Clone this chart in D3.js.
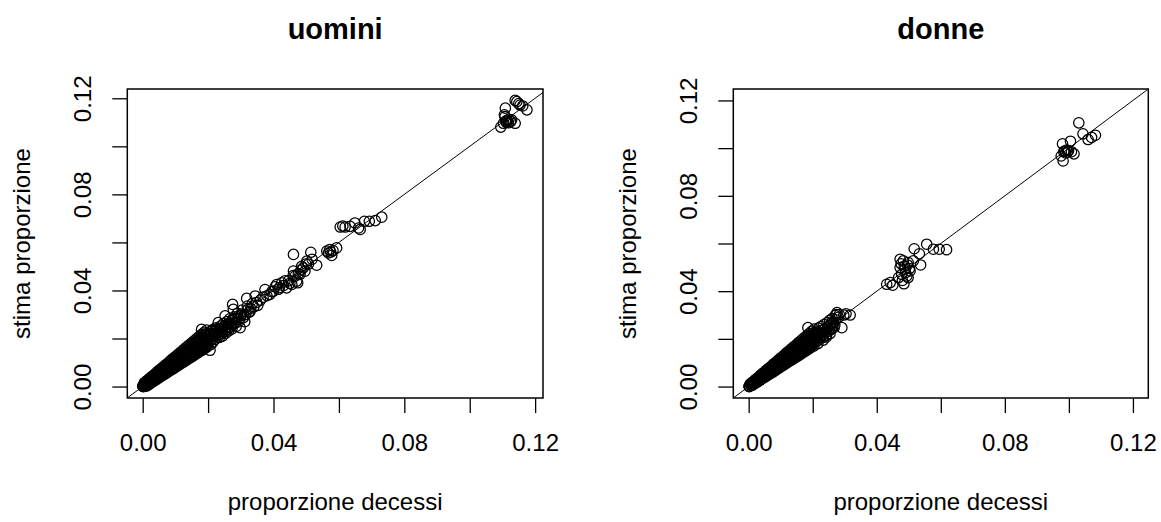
<!DOCTYPE html>
<html>
<head>
<meta charset="utf-8">
<script src="https://cdn.jsdelivr.net/npm/d3@7"></script>
<style>
  body { margin: 0; background: #fff; }
  svg { display: block; font-family: "Liberation Sans", Arial, sans-serif; color: #000; }
</style>
</head>
<body>
<svg id="chart" width="1161" height="522"></svg>
<script>
// values: [proporzione decessi, stima proporzione]
const uominiPoints = [
  [0.0001,0.0001],[0.0002,0.0000],[0.0000,0.0002],
  [0.0005,0.0016],[0.0012,0.0024],[0.0020,0.0033],[0.0028,0.0042],[0.0036,0.0051],[0.0044,0.0061],[0.0052,0.0070],[0.0060,0.0079],[0.0068,0.0088],[0.0076,0.0097],[0.0084,0.0107],[0.0092,0.0116],[0.0100,0.0125],[0.0108,0.0134],[0.0116,0.0143],[0.0124,0.0153],[0.0132,0.0162],[0.0140,0.0171],[0.0148,0.0180],[0.0156,0.0189],[0.0164,0.0199],[0.0172,0.0208],[0.0180,0.0217],[0.0188,0.0226],[0.0196,0.0235],
  [0.0007,0.0016],[0.0015,0.0025],[0.0023,0.0034],[0.0031,0.0042],[0.0039,0.0051],[0.0047,0.0060],[0.0055,0.0069],[0.0063,0.0078],[0.0071,0.0087],[0.0079,0.0096],[0.0087,0.0105],[0.0095,0.0113],[0.0103,0.0122],[0.0111,0.0131],[0.0119,0.0140],[0.0127,0.0149],[0.0135,0.0158],[0.0143,0.0167],[0.0151,0.0176],[0.0159,0.0184],[0.0167,0.0193],[0.0175,0.0202],[0.0183,0.0211],[0.0191,0.0220],
  [0.0009,0.0015],[0.0017,0.0023],[0.0025,0.0032],[0.0033,0.0040],[0.0041,0.0049],[0.0049,0.0057],[0.0057,0.0066],[0.0065,0.0075],[0.0073,0.0083],[0.0081,0.0092],[0.0089,0.0100],[0.0097,0.0109],[0.0105,0.0117],[0.0113,0.0126],[0.0121,0.0134],[0.0129,0.0143],[0.0137,0.0152],[0.0145,0.0160],[0.0153,0.0169],[0.0161,0.0177],[0.0169,0.0186],[0.0177,0.0194],[0.0185,0.0203],[0.0193,0.0212],
  [0.0005,0.0007],[0.0013,0.0015],[0.0021,0.0024],[0.0029,0.0032],[0.0037,0.0040],[0.0045,0.0049],[0.0053,0.0057],[0.0061,0.0065],[0.0069,0.0073],[0.0077,0.0082],[0.0085,0.0090],[0.0093,0.0098],[0.0101,0.0107],[0.0109,0.0115],[0.0117,0.0123],[0.0125,0.0131],[0.0133,0.0140],[0.0141,0.0148],[0.0149,0.0156],[0.0157,0.0164],[0.0165,0.0173],[0.0173,0.0181],[0.0181,0.0189],[0.0189,0.0198],[0.0197,0.0206],
  [0.0003,0.0003],[0.0011,0.0011],[0.0019,0.0020],[0.0027,0.0026],[0.0035,0.0036],[0.0043,0.0042],[0.0051,0.0052],[0.0059,0.0058],[0.0067,0.0068],[0.0075,0.0074],[0.0083,0.0084],[0.0091,0.0090],[0.0099,0.0100],[0.0107,0.0106],[0.0115,0.0116],[0.0123,0.0122],[0.0131,0.0132],[0.0139,0.0138],[0.0147,0.0148],[0.0155,0.0154],[0.0163,0.0164],[0.0171,0.0170],[0.0179,0.0180],[0.0187,0.0186],[0.0195,0.0196],
  [0.0009,0.0007],[0.0017,0.0014],[0.0025,0.0022],[0.0033,0.0030],[0.0041,0.0038],[0.0049,0.0045],[0.0057,0.0053],[0.0065,0.0061],[0.0073,0.0068],[0.0081,0.0076],[0.0089,0.0084],[0.0097,0.0092],[0.0105,0.0099],[0.0113,0.0107],[0.0121,0.0115],[0.0129,0.0122],[0.0137,0.0130],[0.0145,0.0138],[0.0153,0.0146],[0.0161,0.0153],[0.0169,0.0161],[0.0177,0.0169],[0.0185,0.0177],[0.0193,0.0184],
  [0.0007,0.0002],[0.0015,0.0009],[0.0023,0.0016],[0.0031,0.0024],[0.0039,0.0031],[0.0047,0.0039],[0.0055,0.0046],[0.0063,0.0054],[0.0071,0.0061],[0.0079,0.0068],[0.0087,0.0076],[0.0095,0.0083],[0.0103,0.0091],[0.0111,0.0098],[0.0119,0.0106],[0.0127,0.0113],[0.0135,0.0121],[0.0143,0.0128],[0.0151,0.0135],[0.0159,0.0143],[0.0167,0.0150],[0.0175,0.0158],[0.0183,0.0165],[0.0191,0.0173],[0.0199,0.0180],
  [0.0011,0.0004],[0.0019,0.0011],[0.0027,0.0018],[0.0035,0.0026],[0.0043,0.0033],[0.0051,0.0040],[0.0059,0.0047],[0.0067,0.0054],[0.0075,0.0062],[0.0083,0.0069],[0.0091,0.0076],[0.0099,0.0083],[0.0107,0.0090],[0.0115,0.0098],[0.0123,0.0105],[0.0131,0.0112],[0.0139,0.0119],[0.0147,0.0126],[0.0155,0.0134],[0.0163,0.0141],[0.0171,0.0148],[0.0179,0.0155],[0.0187,0.0162],[0.0195,0.0170],
  [0.0013,0.0003],[0.0021,0.0010],[0.0029,0.0018],[0.0037,0.0025],[0.0045,0.0032],[0.0053,0.0039],[0.0061,0.0046],[0.0069,0.0053],[0.0077,0.0060],[0.0085,0.0067],[0.0093,0.0074],[0.0101,0.0081],[0.0109,0.0088],[0.0117,0.0095],[0.0125,0.0102],[0.0133,0.0109],[0.0141,0.0116],[0.0149,0.0123],[0.0157,0.0130],[0.0165,0.0137],[0.0173,0.0144],[0.0181,0.0151],[0.0189,0.0158],[0.0197,0.0165],
  [0.0180,0.0238],[0.0203,0.0222],[0.0205,0.0198],[0.0206,0.0151],[0.0208,0.0175],[0.0210,0.0232],[0.0212,0.0208],[0.0215,0.0185],[0.0216,0.0238],[0.0218,0.0219],[0.0221,0.0196],[0.0224,0.0244],[0.0226,0.0225],[0.0229,0.0205],[0.0231,0.0266],[0.0233,0.0240],[0.0236,0.0218],[0.0238,0.0252],[0.0241,0.0230],[0.0244,0.0210],[0.0247,0.0262],[0.0250,0.0240],[0.0252,0.0294],[0.0254,0.0222],[0.0257,0.0270],[0.0260,0.0250],[0.0263,0.0232],[0.0266,0.0282],[0.0270,0.0260],[0.0273,0.0240],[0.0275,0.0342],[0.0277,0.0321],[0.0279,0.0290],[0.0282,0.0268],[0.0286,0.0250],[0.0290,0.0305],[0.0293,0.0280],[0.0298,0.0245],[0.0300,0.0295],[0.0304,0.0318],[0.0308,0.0287],[0.0312,0.0270],[0.0315,0.0300],[0.0318,0.0367],[0.0320,0.0335],[0.0325,0.0310],[0.0330,0.0325],[0.0335,0.0345],[0.0340,0.0332],[0.0344,0.0377],[0.0348,0.0350],[0.0352,0.0338],
  [0.0202,0.0210],[0.0207,0.0190],[0.0211,0.0220],[0.0214,0.0198],[0.0219,0.0230],[0.0222,0.0212],[0.0227,0.0238],[0.0232,0.0225],[0.0235,0.0205],[0.0239,0.0240],[0.0243,0.0222],[0.0248,0.0250],[0.0251,0.0230],[0.0256,0.0258],[0.0259,0.0238],[0.0264,0.0262],[0.0268,0.0248],[0.0272,0.0275],[0.0276,0.0258],[0.0281,0.0282],[0.0285,0.0265],[0.0289,0.0290],[0.0295,0.0272],[0.0302,0.0302],[0.0310,0.0298],[0.0322,0.0322],[0.0328,0.0312],
  [0.0360,0.0360],[0.0368,0.0372],[0.0374,0.0404],[0.0380,0.0378],[0.0389,0.0384],[0.0395,0.0395],[0.0400,0.0397],[0.0405,0.0415],[0.0410,0.0425],[0.0415,0.0405],[0.0418,0.0412],[0.0425,0.0432],[0.0430,0.0420],[0.0435,0.0440],[0.0440,0.0411],[0.0446,0.0440],[0.0450,0.0430],[0.0456,0.0425],[0.0460,0.0462],[0.0461,0.0481],[0.0461,0.0550],[0.0466,0.0460],[0.0471,0.0439],[0.0474,0.0432],[0.0476,0.0470],[0.0481,0.0467],[0.0484,0.0485],[0.0486,0.0500],[0.0491,0.0494],[0.0496,0.0480],[0.0499,0.0510],[0.0502,0.0522],[0.0507,0.0510],[0.0514,0.0559],[0.0518,0.0530],[0.0532,0.0505],
  [0.0563,0.0564],[0.0568,0.0556],[0.0572,0.0570],[0.0575,0.0560],[0.0578,0.0546],[0.0582,0.0566],[0.0593,0.0577],
  [0.0604,0.0664],[0.0612,0.0668],[0.0619,0.0664],[0.0634,0.0667],[0.0649,0.0681],[0.0660,0.0660],[0.0665,0.0654],[0.0678,0.0688],[0.0693,0.0688],[0.0711,0.0691],[0.0731,0.0705],
  [0.1095,0.1080],[0.1103,0.1096],[0.1106,0.1131],[0.1109,0.1159],[0.1108,0.1124],[0.1110,0.1105],[0.1112,0.1100],[0.1115,0.1108],[0.1118,0.1098],[0.1120,0.1112],[0.1125,0.1103],[0.1128,0.1110],[0.1139,0.1096],[0.1139,0.1191],[0.1144,0.1186],[0.1150,0.1178],[0.1154,0.1172],[0.1162,0.1168],[0.1175,0.1152]
];

const donnePoints = [
  [0.0001,0.0001],[0.0002,0.0000],
  [0.0005,0.0011],[0.0013,0.0020],[0.0021,0.0029],[0.0029,0.0038],[0.0037,0.0048],[0.0045,0.0057],[0.0053,0.0066],[0.0061,0.0075],[0.0069,0.0084],[0.0077,0.0094],[0.0085,0.0103],[0.0093,0.0112],[0.0101,0.0121],[0.0109,0.0130],[0.0117,0.0140],[0.0125,0.0149],[0.0133,0.0158],[0.0141,0.0167],[0.0149,0.0176],[0.0157,0.0186],[0.0165,0.0195],[0.0173,0.0204],[0.0181,0.0213],[0.0189,0.0222],[0.0197,0.0232],[0.0205,0.0241],
  [0.0007,0.0011],[0.0015,0.0020],[0.0023,0.0029],[0.0031,0.0037],[0.0039,0.0046],[0.0047,0.0055],[0.0055,0.0064],[0.0063,0.0073],[0.0071,0.0082],[0.0079,0.0091],[0.0087,0.0100],[0.0095,0.0108],[0.0103,0.0117],[0.0111,0.0126],[0.0119,0.0135],[0.0127,0.0144],[0.0135,0.0153],[0.0143,0.0162],[0.0151,0.0171],[0.0159,0.0179],[0.0167,0.0188],[0.0175,0.0197],[0.0183,0.0206],[0.0191,0.0215],[0.0199,0.0224],
  [0.0009,0.0012],[0.0017,0.0020],[0.0025,0.0029],[0.0033,0.0037],[0.0041,0.0046],[0.0049,0.0054],[0.0057,0.0063],[0.0065,0.0072],[0.0073,0.0080],[0.0081,0.0089],[0.0089,0.0097],[0.0097,0.0106],[0.0105,0.0114],[0.0113,0.0123],[0.0121,0.0131],[0.0129,0.0140],[0.0137,0.0149],[0.0145,0.0157],[0.0153,0.0166],[0.0161,0.0174],[0.0169,0.0183],[0.0177,0.0191],[0.0185,0.0200],[0.0193,0.0209],[0.0201,0.0217],[0.0209,0.0226],
  [0.0006,0.0007],[0.0014,0.0015],[0.0022,0.0024],[0.0030,0.0032],[0.0038,0.0040],[0.0046,0.0049],[0.0054,0.0057],[0.0062,0.0065],[0.0070,0.0073],[0.0078,0.0082],[0.0086,0.0090],[0.0094,0.0098],[0.0102,0.0107],[0.0110,0.0115],[0.0118,0.0123],[0.0126,0.0131],[0.0134,0.0140],[0.0142,0.0148],[0.0150,0.0156],[0.0158,0.0165],[0.0166,0.0173],[0.0174,0.0181],[0.0182,0.0189],[0.0190,0.0198],[0.0198,0.0206],[0.0206,0.0214],
  [0.0002,0.0002],[0.0010,0.0010],[0.0018,0.0019],[0.0026,0.0025],[0.0034,0.0035],[0.0042,0.0041],[0.0050,0.0051],[0.0058,0.0057],[0.0066,0.0067],[0.0074,0.0073],[0.0082,0.0083],[0.0090,0.0089],[0.0098,0.0099],[0.0106,0.0105],[0.0114,0.0115],[0.0122,0.0121],[0.0130,0.0131],[0.0138,0.0137],[0.0146,0.0147],[0.0154,0.0153],[0.0162,0.0163],[0.0170,0.0169],[0.0178,0.0179],[0.0186,0.0185],[0.0194,0.0195],[0.0202,0.0201],[0.0210,0.0211],
  [0.0008,0.0007],[0.0016,0.0014],[0.0024,0.0022],[0.0032,0.0030],[0.0040,0.0038],[0.0048,0.0045],[0.0056,0.0053],[0.0064,0.0061],[0.0072,0.0068],[0.0080,0.0076],[0.0088,0.0084],[0.0096,0.0092],[0.0104,0.0099],[0.0112,0.0107],[0.0120,0.0115],[0.0128,0.0123],[0.0136,0.0130],[0.0144,0.0138],[0.0152,0.0146],[0.0160,0.0153],[0.0168,0.0161],[0.0176,0.0169],[0.0184,0.0177],[0.0192,0.0184],[0.0200,0.0192],
  [0.0007,0.0005],[0.0015,0.0012],[0.0023,0.0019],[0.0031,0.0027],[0.0039,0.0034],[0.0047,0.0042],[0.0055,0.0049],[0.0063,0.0057],[0.0071,0.0064],[0.0079,0.0071],[0.0087,0.0079],[0.0095,0.0086],[0.0103,0.0094],[0.0111,0.0101],[0.0119,0.0109],[0.0127,0.0116],[0.0135,0.0124],[0.0143,0.0131],[0.0151,0.0138],[0.0159,0.0146],[0.0167,0.0153],[0.0175,0.0161],[0.0183,0.0168],[0.0191,0.0176],[0.0199,0.0183],[0.0207,0.0191],
  [0.0010,0.0006],[0.0018,0.0013],[0.0026,0.0020],[0.0034,0.0027],[0.0042,0.0035],[0.0050,0.0042],[0.0058,0.0049],[0.0066,0.0056],[0.0074,0.0063],[0.0082,0.0070],[0.0090,0.0078],[0.0098,0.0085],[0.0106,0.0092],[0.0114,0.0099],[0.0122,0.0106],[0.0130,0.0113],[0.0138,0.0121],[0.0146,0.0128],[0.0154,0.0135],[0.0162,0.0142],[0.0170,0.0149],[0.0178,0.0156],[0.0186,0.0163],[0.0194,0.0171],[0.0202,0.0178],
  [0.0012,0.0006],[0.0020,0.0013],[0.0028,0.0020],[0.0036,0.0027],[0.0044,0.0034],[0.0052,0.0041],[0.0060,0.0048],[0.0068,0.0054],[0.0076,0.0061],[0.0084,0.0068],[0.0092,0.0075],[0.0100,0.0082],[0.0108,0.0089],[0.0116,0.0096],[0.0124,0.0103],[0.0132,0.0110],[0.0140,0.0116],[0.0148,0.0123],[0.0156,0.0130],[0.0164,0.0137],[0.0172,0.0144],[0.0180,0.0151],[0.0188,0.0158],[0.0196,0.0165],[0.0204,0.0171],
  [0.0185,0.0247],[0.0212,0.0232],[0.0214,0.0200],[0.0216,0.0180],[0.0218,0.0245],[0.0220,0.0222],[0.0223,0.0205],[0.0226,0.0252],[0.0228,0.0235],[0.0230,0.0215],[0.0233,0.0195],[0.0235,0.0260],[0.0237,0.0242],[0.0240,0.0225],[0.0243,0.0208],[0.0245,0.0268],[0.0247,0.0250],[0.0250,0.0232],[0.0253,0.0278],[0.0255,0.0258],[0.0258,0.0240],[0.0261,0.0285],[0.0264,0.0265],[0.0267,0.0248],[0.0270,0.0298],[0.0272,0.0280],[0.0274,0.0302],[0.0276,0.0310],[0.0280,0.0290],[0.0283,0.0302],[0.0291,0.0247],[0.0297,0.0300],[0.0304,0.0305],[0.0317,0.0300],
  [0.0211,0.0215],[0.0215,0.0192],[0.0219,0.0228],[0.0222,0.0212],[0.0227,0.0225],[0.0231,0.0205],[0.0234,0.0238],[0.0239,0.0232],[0.0242,0.0215],[0.0246,0.0245],[0.0251,0.0240],[0.0254,0.0222],[0.0257,0.0265],[0.0262,0.0250],[0.0266,0.0270],[0.0269,0.0258],
  [0.0431,0.0429],[0.0442,0.0436],[0.0450,0.0425],[0.0468,0.0457],[0.0473,0.0534],[0.0473,0.0499],[0.0476,0.0515],[0.0478,0.0471],[0.0480,0.0445],[0.0483,0.0527],[0.0485,0.0431],[0.0486,0.0505],[0.0488,0.0492],[0.0490,0.0478],[0.0494,0.0464],[0.0496,0.0510],[0.0498,0.0520],[0.0498,0.0457],[0.0502,0.0495],[0.0504,0.0485],[0.0514,0.0527],[0.0517,0.0578],[0.0533,0.0557],[0.0537,0.0510],[0.0556,0.0597],[0.0577,0.0576],[0.0595,0.0576],[0.0618,0.0574],
  [0.0976,0.0967],[0.0980,0.1018],[0.0982,0.0946],[0.0984,0.0985],[0.0987,0.0988],[0.0990,0.0980],[0.0993,0.0992],[0.0996,0.0984],[0.0999,0.0990],[0.1005,0.1029],[0.1008,0.0985],[0.1016,0.0976],[0.1031,0.1106],[0.1044,0.1060],[0.1060,0.1036],[0.1071,0.1045],[0.1083,0.1054]
];

// axis limits (before R's 4% extension)
const uominiXLim = [0, 0.1177];
const uominiYLim = [0, 0.1191];
const donneXLim = [0, 0.12];
const donneYLim = [0, 0.12];

const tickValues = [0, 0.02, 0.04, 0.06, 0.08, 0.10, 0.12];
const labelValues = [0, 0.04, 0.08, 0.12];
const panelTitles = ["uomini", "donne"];
const xTitle = "proporzione decessi";
const yTitle = "stima proporzione";

const svg = d3.select("#chart");
const fmt = d3.format(".2f");

function extend(lim) {
  let pad = (lim[1] - lim[0]) * 0.04;
  return [lim[0] - pad, lim[1] + pad];
}

function drawPanel(id, box, points, xLim, yLim, title) {
  let x = d3.scaleLinear().domain(extend(xLim)).range([box.left, box.right]);
  let y = d3.scaleLinear().domain(extend(yLim)).range([box.bottom, box.top]);
  let g = svg.append("g");

  g.append("clipPath").attr("id", "clip-" + id)
    .append("rect")
    .attr("x", box.left).attr("y", box.top)
    .attr("width", box.right - box.left).attr("height", box.bottom - box.top);

  // abline(0, 1)
  let lo = Math.min(x.domain()[0], y.domain()[0]);
  let hi = Math.max(x.domain()[1], y.domain()[1]);
  g.append("line")
    .attr("clip-path", "url(#clip-" + id + ")")
    .attr("x1", x(lo)).attr("y1", y(lo))
    .attr("x2", x(hi)).attr("y2", y(hi))
    .attr("stroke", "#000").attr("stroke-width", 1);

  g.append("g").selectAll("circle")
    .data(points)
    .enter()
    .append("circle")
    .attr("cx", d => x(d[0]))
    .attr("cy", d => y(d[1]))
    .attr("r", 5.2)
    .attr("fill", "none")
    .attr("stroke", "#000")
    .attr("stroke-width", 1.25);

  g.append("rect")
    .attr("x", box.left).attr("y", box.top)
    .attr("width", box.right - box.left).attr("height", box.bottom - box.top)
    .attr("fill", "none").attr("stroke", "#000").attr("stroke-width", 1.5);

  let tickFmt = d => labelValues.some(v => Math.abs(v - d) < 1e-9) ? fmt(d) : "";

  let xAxis = g.append("g")
    .attr("transform", `translate(0,${box.bottom})`)
    .call(d3.axisBottom(x).tickValues(tickValues).tickSize(15).tickPadding(21).tickSizeOuter(0).tickFormat(tickFmt));
  xAxis.select(".domain").remove();

  let yAxis = g.append("g")
    .attr("transform", `translate(${box.left},0)`)
    .call(d3.axisLeft(y).tickValues(tickValues).tickSize(15).tickSizeOuter(0).tickFormat(tickFmt));
  yAxis.select(".domain").remove();
  yAxis.selectAll("text")
    .attr("x", null).attr("dy", null)
    .attr("text-anchor", "middle")
    .attr("transform", "translate(-36,0) rotate(-90)");

  [xAxis, yAxis].forEach(a => {
    a.attr("font-size", 24).attr("font-family", null);
    a.selectAll("line").attr("stroke-width", 1.3);
  });

  let cx = (box.left + box.right) / 2;
  let cy = (box.top + box.bottom) / 2;

  g.append("text")
    .attr("x", cx).attr("y", 39)
    .attr("text-anchor", "middle")
    .attr("font-size", 29).attr("font-weight", "bold")
    .text(title);

  g.append("text")
    .attr("x", cx).attr("y", 510)
    .attr("text-anchor", "middle")
    .attr("font-size", 24)
    .text(xTitle);

  g.append("text")
    .attr("transform", `translate(${box.left - 97},${cy}) rotate(-90)`)
    .attr("text-anchor", "middle")
    .attr("font-size", 24)
    .text(yTitle);
}

drawPanel("u", {left: 127.3, right: 543, top: 89, bottom: 398}, uominiPoints, uominiXLim, uominiYLim, panelTitles[0]);
drawPanel("d", {left: 733.3, right: 1148.3, top: 89, bottom: 398}, donnePoints, donneXLim, donneYLim, panelTitles[1]);
</script>
</body>
</html>
